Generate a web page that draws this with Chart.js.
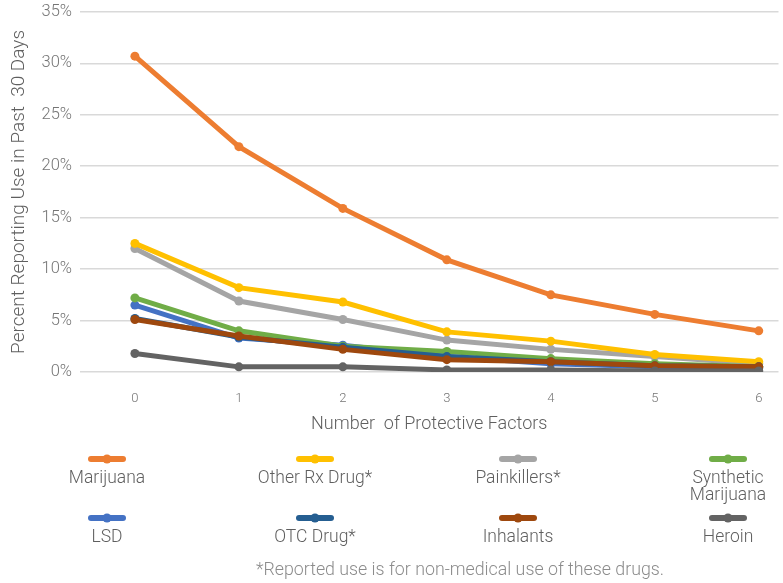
<!DOCTYPE html>
<html>
<head>
<meta charset="utf-8">
<script src="https://cdn.jsdelivr.net/npm/chart.js@4/dist/chart.umd.min.js"></script>
<style>
  html, body { margin: 0; padding: 0; background: #ffffff; }
  #wrap { position: relative; width: 783px; height: 583px; }
</style>
</head>
<body>
<div id="wrap"><canvas id="c" width="783" height="583"></canvas></div>
<script>
// Number of protective factors (x axis)
const factors = [0, 1, 2, 3, 4, 5, 6];
// Percent reporting use in past 30 days, per drug
const marijuana   = [30.7, 21.9, 15.9, 10.9, 7.5, 5.6, 4.0];
const otherRx     = [12.5, 8.2, 6.8, 3.9, 3.0, 1.7, 1.0];
const painkillers = [12.0, 6.9, 5.1, 3.1, 2.2, 1.5, 0.8];
const synthetic   = [7.2, 4.0, 2.5, 2.0, 1.3, 0.8, 0.5];
const lsd         = [6.5, 3.3, 2.6, 1.5, 0.8, 0.5, 0.4];
const otc         = [5.2, 3.4, 2.4, 1.5, 1.0, 0.6, 0.5];
const inhalants   = [5.1, 3.5, 2.2, 1.2, 1.0, 0.6, 0.5];
const heroin      = [1.8, 0.5, 0.5, 0.2, 0.2, 0.1, 0.1];
// Y axis tick values (percent)
const yTicks = [0, 5, 10, 15, 20, 25, 30, 35];

const seriesNames = ['Marijuana', 'Other Rx Drug*', 'Painkillers*', 'Synthetic Marijuana',
                     'LSD', 'OTC Drug*', 'Inhalants', 'Heroin'];
const seriesData = [marijuana, otherRx, painkillers, synthetic, lsd, otc, inhalants, heroin];
const colors = ['#ED7D31', '#FFC000', '#A5A5A5', '#70AD47', '#4472C4', '#255E91', '#9E480E', '#636363'];
// lower order is painted on top
const drawOrder = [8, 6, 7, 4, 5, 3, 2, 1];

const FONT = "'Roboto', 'Liberation Sans', sans-serif";
const TEXT = '#5F5F5F';
const TICK = '#757575';

const datasets = seriesNames.map((name, i) => ({
  label: name,
  data: factors.map((f, j) => ({ x: f, y: seriesData[i][j] })),
  borderColor: colors[i],
  backgroundColor: colors[i],
  borderWidth: 5,
  pointRadius: 4.5,
  pointBorderWidth: 0,
  pointHoverRadius: 4.5,
  tension: 0,
  order: drawOrder[i]
}));

// Legend in a four-column grid, marker above its label
const gridLegend = {
  id: 'gridLegend',
  afterDraw(chart) {
    const ctx = chart.ctx;
    const cols = [107, 315, 518, 728];
    const markerY = [459, 518];
    const textY = [479, 538];
    ctx.save();
    ctx.font = '300 17.5px ' + FONT;
    ctx.textAlign = 'center';
    ctx.textBaseline = 'middle';
    chart.data.datasets.forEach((ds, i) => {
      const cx = cols[i % 4];
      const r = Math.floor(i / 4);
      ctx.strokeStyle = ds.borderColor;
      ctx.lineWidth = 6;
      ctx.lineCap = 'round';
      ctx.beginPath();
      ctx.moveTo(cx - 16, markerY[r]);
      ctx.lineTo(cx + 16, markerY[r]);
      ctx.stroke();
      ctx.fillStyle = ds.borderColor;
      ctx.beginPath();
      ctx.arc(cx, markerY[r], 4.5, 0, Math.PI * 2);
      ctx.fill();
      // wrap long labels onto two lines
      const words = ds.label.split(' ');
      const lines = [];
      let cur = '';
      words.forEach(w => {
        const t = cur ? cur + ' ' + w : w;
        if (ctx.measureText(t).width > 135 && cur) { lines.push(cur); cur = w; } else { cur = t; }
      });
      lines.push(cur);
      ctx.fillStyle = TEXT;
      lines.forEach((ln, k) => ctx.fillText(ln, cx, textY[r] + k * 17));
    });
    ctx.fillStyle = '#8C8C8C';
    ctx.font = '300 17.8px ' + FONT;
    ctx.fillText('*Reported use is for non-medical use of these drugs.', 460, 571);
    ctx.restore();
  }
};

new Chart(document.getElementById('c'), {
  type: 'line',
  data: { datasets },
  options: {
    responsive: false,
    animation: false,
    layout: { padding: { top: 4, right: 3, bottom: 144, left: 0 } },
    plugins: { legend: { display: false }, tooltip: { enabled: false } },
    scales: {
      x: {
        type: 'linear',
        min: -0.528,
        max: 6.19,
        afterBuildTicks: axis => { axis.ticks = factors.map(v => ({ value: v })); },
        afterFit: axis => { axis.height = 67; },
        grid: { display: false },
        border: { display: false },
        ticks: { color: TICK, font: { family: FONT, size: 13, weight: '300' }, padding: 11, maxRotation: 0 },
        title: { display: true, text: 'Number  of Protective Factors', color: TEXT,
                 font: { family: FONT, size: 18, weight: '300' }, padding: { top: 9 } }
      },
      y: {
        min: 0,
        max: 35,
        afterBuildTicks: axis => { axis.ticks = yTicks.map(v => ({ value: v })); },
        afterFit: axis => { axis.width = 80; },
        grid: { color: '#D9D9D9', lineWidth: 1.5, drawTicks: true, tickLength: 6, tickColor: 'rgba(0,0,0,0)' },
        border: { display: false },
        ticks: { color: TICK, font: { family: FONT, size: 16.5, weight: '300' }, padding: 2,
                 callback: v => v + '%' },
        title: { display: true, text: 'Percent Reporting Use in Past  30 Days', color: TEXT,
                 font: { family: FONT, size: 19, weight: '300' }, padding: { top: 8, bottom: 0 } }
      }
    }
  },
  plugins: [gridLegend]
});
</script>
</body>
</html>
